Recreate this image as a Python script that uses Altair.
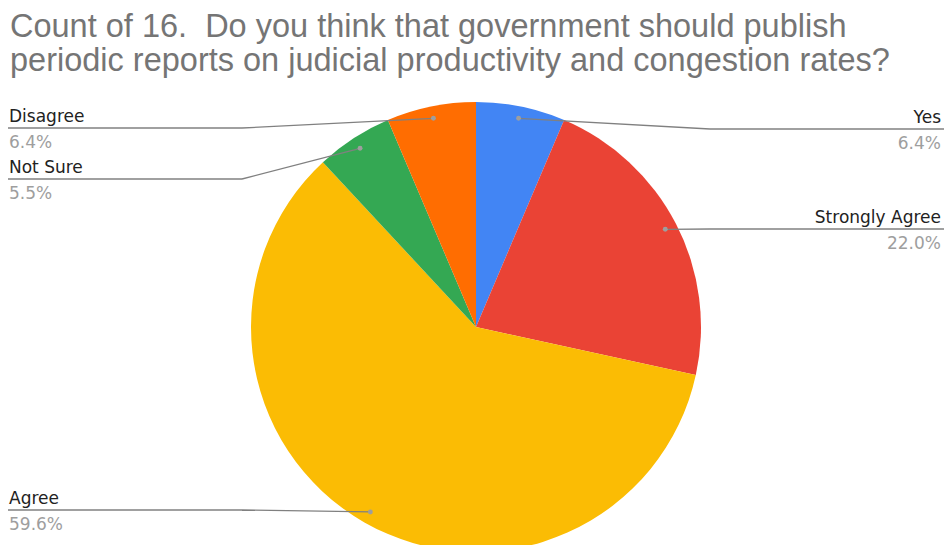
import altair as alt
import pandas as pd

# ---------------- data ----------------
TITLE_LINES = [
    "Count of 16.\u00a0 Do you think that government should publish",
    "periodic reports on judicial productivity and congestion rates?",
]
CATEGORIES = ["Yes", "Strongly Agree", "Agree", "Not Sure", "Disagree"]
PERCENTS = [6.4, 22.0, 59.6, 5.5, 6.4]
PCT_LABELS = ["6.4%", "22.0%", "59.6%", "5.5%", "6.4%"]
COLORS = ["#4285F4", "#EA4335", "#FBBC04", "#34A853", "#FF6D01"]

# ---------------- layout ----------------
W, H = 945, 545
CX, CY, R = 476, 327, 225
DOT_R = 213
LABEL_SIDE = ["right", "right", "left", "left", "left"]
LABEL_LINE_Y = [129, 229, 510, 179, 128]
ELBOW_X = {"left": 242, "right": 710}
END_X = {"left": 8, "right": 944}
TEXT_X = {"left": 9, "right": 941}
LINE_COLOR = "#808080"
LABEL_FONT = "DejaVu Sans"

df = pd.DataFrame({
    "category": CATEGORIES,
    "value": PERCENTS,
    "pct": PCT_LABELS,
    "order": list(range(len(CATEGORIES))),
    "side": LABEL_SIDE,
    "line_y": LABEL_LINE_Y,
})
df["elbow_x"] = df["side"].map(ELBOW_X)
df["end_x"] = df["side"].map(END_X)
df["text_x"] = df["side"].map(TEXT_X)

title_df = pd.DataFrame({"line": TITLE_LINES, "row": [0, 1]})

xs = alt.Scale(domain=[0, W], range=[0, W])
ys = alt.Scale(domain=[0, H], range=[0, H])

base = alt.Chart(df)

pie = base.mark_arc(radius=R).encode(
    theta=alt.Theta("value:Q", stack=True),
    order=alt.Order("order:Q"),
    color=alt.Color("category:N", scale=alt.Scale(domain=CATEGORIES, range=COLORS), legend=None),
    x=alt.value(CX),
    y=alt.value(CY),
)

geo = base.transform_joinaggregate(total="sum(value)").transform_window(
    cum="sum(value)", sort=[alt.SortField("order")], frame=[None, 0]
).transform_calculate(
    mid="(datum.cum - datum.value/2)/datum.total*2*PI",
).transform_calculate(
    dot_x=f"{CX} + {DOT_R}*sin(datum.mid)",
    dot_y=f"{CY} - {DOT_R}*cos(datum.mid)",
)

seg1 = geo.mark_rule(color=LINE_COLOR, strokeWidth=1.3).encode(
    x=alt.X("dot_x:Q", scale=xs, axis=None),
    y=alt.Y("dot_y:Q", scale=ys, axis=None),
    x2="elbow_x:Q",
    y2="line_y:Q",
)
seg2 = base.mark_rule(color=LINE_COLOR, strokeWidth=1.3).encode(
    x=alt.X("elbow_x:Q", scale=xs, axis=None),
    y=alt.Y("line_y:Q", scale=ys, axis=None),
    x2="end_x:Q",
    y2="line_y:Q",
)
dots = geo.mark_circle(size=24, color="#9e9e9e", opacity=1).encode(
    x=alt.X("dot_x:Q", scale=xs, axis=None),
    y=alt.Y("dot_y:Q", scale=ys, axis=None),
)

def labels(side, align):
    sub = base.transform_filter(alt.datum.side == side)
    name = sub.mark_text(align=align, baseline="alphabetic", font=LABEL_FONT,
                         fontSize=17, color="#222222", dy=-6).encode(
        x=alt.X("text_x:Q", scale=xs, axis=None),
        y=alt.Y("line_y:Q", scale=ys, axis=None),
        text="category:N",
    )
    pct = sub.mark_text(align=align, baseline="alphabetic", font=LABEL_FONT,
                        fontSize=17, color="#9e9e9e", dy=20).encode(
        x=alt.X("text_x:Q", scale=xs, axis=None),
        y=alt.Y("line_y:Q", scale=ys, axis=None),
        text="pct:N",
    )
    return name + pct

title = alt.Chart(title_df).transform_calculate(
    ty="37 + datum.row*34", tx="10"
).mark_text(align="left", baseline="alphabetic", font="Liberation Sans",
            fontSize=32.5, color="#757575").encode(
    x=alt.X("tx:Q", scale=xs, axis=None),
    y=alt.Y("ty:Q", scale=ys, axis=None),
    text="line:N",
)

chart = alt.layer(
    pie, seg1, seg2, dots, labels("left", "left"), labels("right", "right"), title
).properties(
    width=W, height=H, autosize=alt.AutoSizeParams(type="none"), padding=0,
    background="white",
).configure_view(stroke=None)

chart.save("out.html", embed_options={"renderer": "svg", "actions": False})
